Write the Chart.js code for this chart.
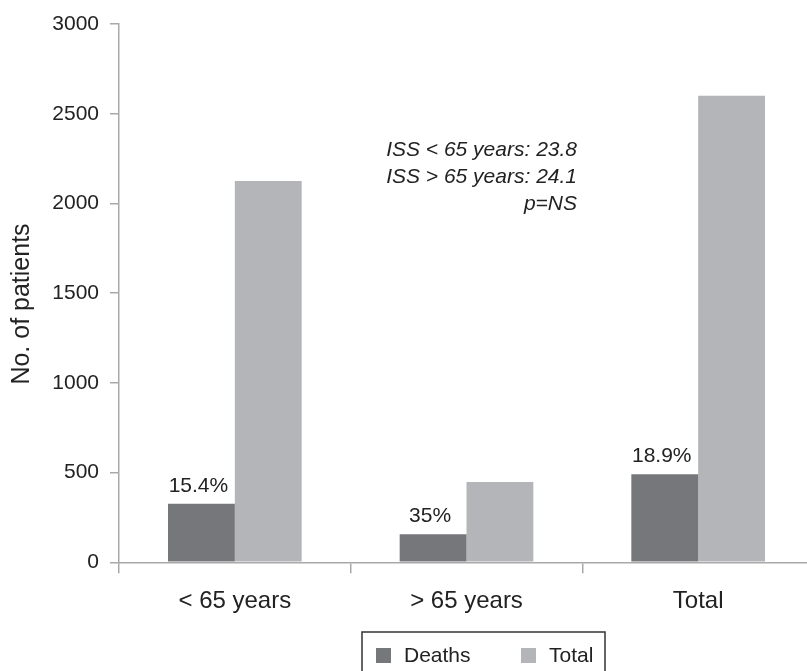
<!DOCTYPE html>
<html>
<head>
<meta charset="utf-8">
<script src="https://cdn.jsdelivr.net/npm/chart.js@4"></script>
<style>
  html, body { margin: 0; padding: 0; background: #fff; overflow: hidden; }
  #wrap { position: relative; width: 815px; height: 671px; }
</style>
</head>
<body>
<div id="wrap"><canvas id="c"></canvas></div>
<script>
// Patients and deaths by age group
const categories = ['< 65 years', '> 65 years', 'Total'];
const deaths = [327, 157, 491];
const totals = [2125, 448, 2600];
const mortalityLabels = ['15.4%', '35%', '18.9%'];
const yTicks = [0, 500, 1000, 1500, 2000, 2500, 3000];
const seriesNames = ['Deaths', 'Total'];
const seriesColors = ['#76777a', '#b4b5b8'];
const issNotes = ['ISS < 65 years: 23.8', 'ISS > 65 years: 24.1', 'p=NS'];
const yTitle = 'No. of patients';

const FONT = '"Liberation Sans", Arial, Helvetica, sans-serif';
const AXIS = '#a9a9a9';

const extras = {
  id: 'extras',
  afterDatasetsDraw(chart) {
    const ctx = chart.ctx;
    const meta = chart.getDatasetMeta(0);
    ctx.save();
    // mortality percentages above the death bars
    ctx.fillStyle = '#222';
    ctx.font = '21px ' + FONT;
    ctx.textAlign = 'center';
    ctx.textBaseline = 'alphabetic';
    meta.data.forEach((bar, i) => {
      ctx.fillText(mortalityLabels[i], bar.x - 3, bar.y - 12);
    });

    // injury severity note
    ctx.font = 'italic 21px ' + FONT;
    ctx.textAlign = 'right';
    const xr = 577;
    issNotes.forEach((t, i) => ctx.fillText(t, xr, 156 + i * 27));

    // y axis title
    ctx.save();
    ctx.translate(29, 304);
    ctx.rotate(-Math.PI / 2);
    ctx.textAlign = 'center';
    ctx.textBaseline = 'alphabetic';
    ctx.font = '25px ' + FONT;
    ctx.fillText(yTitle, 0, 0);
    ctx.restore();

    // legend box
    const lx = 362, ly = 632, lw = 243, lh = 50;
    ctx.strokeStyle = '#333';
    ctx.lineWidth = 1.5;
    ctx.strokeRect(lx, ly, lw, lh);
    ctx.font = '21px ' + FONT;
    ctx.textAlign = 'left';
    ctx.textBaseline = 'middle';
    const items = [{x: 376}, {x: 521}];
    items.forEach((it, i) => {
      ctx.fillStyle = seriesColors[i];
      ctx.fillRect(it.x, 648, 15, 15);
      ctx.fillStyle = '#222';
      ctx.fillText(seriesNames[i], it.x + 28, 656);
    });
    ctx.restore();
  }
};

new Chart(document.getElementById('c'), {
  type: 'bar',
  data: {
    labels: categories,
    datasets: [
      { label: seriesNames[0], data: deaths, backgroundColor: seriesColors[0] },
      { label: seriesNames[1], data: totals, backgroundColor: seriesColors[1] }
    ]
  },
  options: {
    responsive: true,
    maintainAspectRatio: false,
    animation: false,
    layout: { padding: { top: 24, right: 1, bottom: 0, left: 0 } },
    plugins: {
      legend: { display: false },
      tooltip: { enabled: false }
    },
    datasets: {
      bar: { categoryPercentage: 0.577, barPercentage: 1.0 }
    },
    scales: {
      x: {
        offset: true,
        grid: {
          display: true,
          offset: true,
          drawOnChartArea: false,
          drawTicks: true,
          tickLength: 11,
          color: AXIS,
          lineWidth: 1.5
        },
        border: { display: true, color: AXIS, width: 1.5 },
        ticks: {
          color: '#222',
          padding: 14,
          font: { family: FONT, size: 24 }
        },
        afterFit(s) { s.height = 108.7; }
      },
      y: {
        min: 0,
        max: 3000,
        afterBuildTicks(s) { s.ticks = yTicks.map(v => ({ value: v })); },
        grid: {
          display: true,
          drawOnChartArea: false,
          drawTicks: true,
          tickLength: 9,
          color: AXIS,
          lineWidth: 1.5
        },
        border: { display: true, color: AXIS, width: 1.5 },
        ticks: {
          color: '#222',
          padding: 11,
          font: { family: FONT, size: 21 },
          callback: (v) => String(v)
        },
        afterFit(s) { s.width = 119; }
      }
    }
  },
  plugins: [extras]
});
</script>
</body>
</html>
